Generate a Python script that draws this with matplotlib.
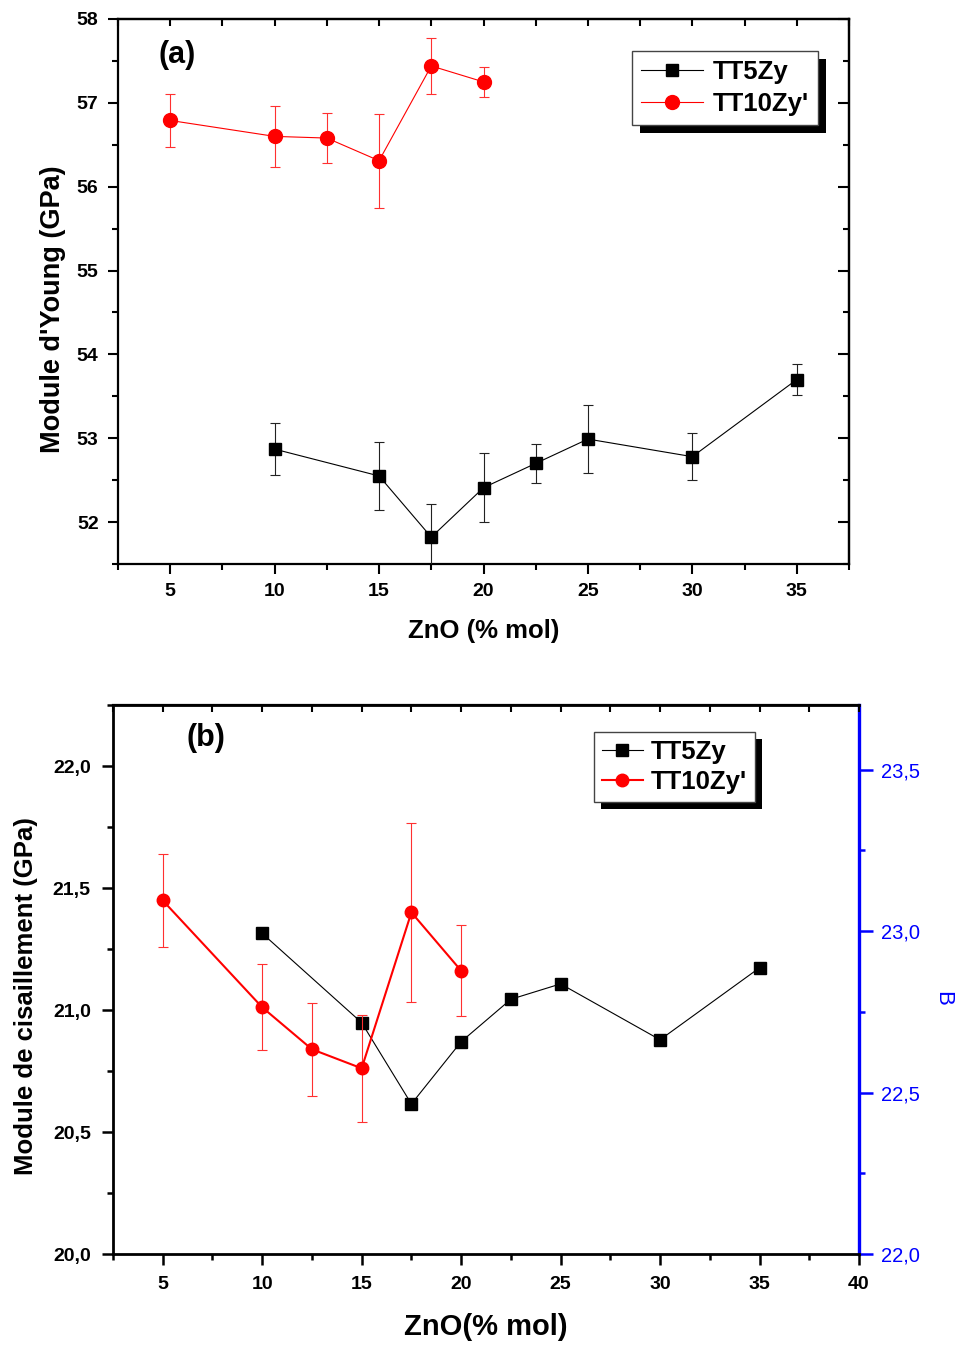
import matplotlib
matplotlib.use("Agg")
import matplotlib.pyplot as plt
from matplotlib.ticker import MultipleLocator, FuncFormatter
from matplotlib.patches import Rectangle
from matplotlib.lines import Line2D

plt.rcParams['font.family'] = ['Liberation Sans', 'DejaVu Sans']

# ---------------- data: panel (a) Young's modulus ----------------
x_a_tt5 = [10, 15, 17.5, 20, 22.5, 25, 30, 35]
y_a_tt5 = [52.87, 52.55, 51.82, 52.41, 52.70, 52.99, 52.78, 53.70]
e_a_tt5 = [0.31, 0.41, 0.39, 0.415, 0.23, 0.405, 0.28, 0.185]

x_a_tt10 = [5, 10, 12.5, 15, 17.5, 20]
y_a_tt10 = [56.79, 56.60, 56.58, 56.31, 57.44, 57.25]
e_a_tt10 = [0.315, 0.365, 0.30, 0.56, 0.33, 0.175]

# ---------------- data: panel (b) shear modulus ----------------
x_b_tt5 = [10, 15, 17.5, 20, 22.5, 25, 30, 35]
y_b_tt5 = [21.314, 20.948, 20.615, 20.870, 21.044, 21.107, 20.878, 21.173]

x_b_tt10 = [5, 10, 12.5, 15, 17.5, 20]
y_b_tt10 = [21.449, 21.011, 20.839, 20.761, 21.400, 21.161]
e_b_tt10 = [0.19, 0.176, 0.19, 0.22, 0.366, 0.186]

labels = ["TT5Zy", "TT10Zy'"]

W, H = 961, 1345
fig = plt.figure(figsize=(W / 100, H / 100), dpi=100)

def ax_rect(l, t, r, b):
    return [l / W, 1 - b / H, (r - l) / W, (b - t) / H]

def comma(v, pos):
    return f"{v:.1f}".replace('.', ',')

def add_shadow(ax, leg, off=8):
    fig.canvas.draw()
    bb = leg.get_window_extent()
    inv = ax.transAxes.inverted()
    (x0, y0) = inv.transform((bb.x0 + off, bb.y0 - off))
    (x1, y1) = inv.transform((bb.x1 + off, bb.y1 - off))
    r = Rectangle((x0, y0), x1 - x0, y1 - y0, transform=ax.transAxes,
                  facecolor='black', edgecolor='none', zorder=4.5, clip_on=False)
    ax.add_patch(r)

TICK_FS = 14

# ======================= panel (a) =======================
ax = fig.add_axes(ax_rect(118, 19, 849, 564))
ax.errorbar(x_a_tt5, y_a_tt5, yerr=e_a_tt5, color='black', marker='s', ms=8,
            lw=0.8, elinewidth=0.8, capsize=3.5, capthick=0.8, ecolor='#222222',
            zorder=3)
ax.errorbar(x_a_tt10, y_a_tt10, yerr=e_a_tt10, color='red', marker='o', ms=10,
            lw=0.8, elinewidth=0.8, capsize=3.5, capthick=0.8, ecolor='#ff3030',
            zorder=3)
ax.set_xlim(2.5, 37.5)
ax.set_ylim(51.5, 58)
ax.xaxis.set_major_locator(MultipleLocator(5))
ax.xaxis.set_minor_locator(MultipleLocator(2.5))
ax.yaxis.set_major_locator(MultipleLocator(1))
ax.yaxis.set_minor_locator(MultipleLocator(0.5))
ax.tick_params(which='major', direction='out', length=7, width=1.5, pad=7)
ax.tick_params(which='minor', direction='out', length=4, width=1.5)
for lab in ax.get_xticklabels() + ax.get_yticklabels():
    lab.set_fontsize(TICK_FS)
    lab.set_fontweight('bold')
for s in ax.spines.values():
    s.set_linewidth(1.6)
sx = ax.secondary_xaxis('top')
sx.xaxis.set_major_locator(MultipleLocator(2.5))
sx.tick_params(direction='in', length=5, width=1.5, labeltop=False)
sx.spines['top'].set_linewidth(1.6)
sy = ax.secondary_yaxis('right')
sy.yaxis.set_major_locator(MultipleLocator(1))
sy.yaxis.set_minor_locator(MultipleLocator(0.5))
sy.tick_params(which='major', direction='in', length=8, width=1.5, labelright=False)
sy.tick_params(which='minor', direction='in', length=4, width=1.5)
sy.spines['right'].set_linewidth(1.6)

ax.set_xlabel("ZnO (% mol)", fontsize=18.5, fontweight='bold')
ax.xaxis.set_label_coords(0.5, -0.123)
ax.xaxis.label.set_va('center')
ax.set_ylabel("Module d'Young (GPa)", fontsize=19.5, fontweight='bold')
ax.yaxis.set_label_coords(-0.089, 0.468)
ax.yaxis.label.set_va('center')
ax.text(0.0807, 0.934, "(a)", transform=ax.transAxes, fontsize=22,
        fontweight='bold', ha='center', va='center')

h_a = [Line2D([], [], color='black', marker='s', ms=8, lw=0.8),
       Line2D([], [], color='red', marker='o', ms=10, lw=0.8)]
leg = ax.legend(h_a, labels, loc='upper left', bbox_to_anchor=(0.703, 0.941),
                borderaxespad=0, fancybox=False, framealpha=1, edgecolor='#444444',
                prop=dict(size=18.5, weight='bold'), handlelength=2.4,
                handletextpad=0.4, labelspacing=0.3, borderpad=0.35)
leg.get_frame().set_linewidth(1.0)

# ======================= panel (b) =======================
axb = fig.add_axes(ax_rect(113, 705, 859, 1254))
axb.plot(x_b_tt5, y_b_tt5, color='black', marker='s', ms=8.5, lw=0.8, zorder=3)
axb.errorbar(x_b_tt10, y_b_tt10, yerr=e_b_tt10, color='red', marker='o', ms=9,
             lw=1.5, elinewidth=0.8, capsize=3.5, capthick=0.8, ecolor='#ff3030',
             zorder=3)
axb.set_xlim(2.5, 40)
axb.set_ylim(20, 22.25)
axb.xaxis.set_major_locator(MultipleLocator(5))
axb.xaxis.set_minor_locator(MultipleLocator(2.5))
axb.yaxis.set_major_locator(MultipleLocator(0.5))
axb.yaxis.set_minor_locator(MultipleLocator(0.25))
axb.yaxis.set_major_formatter(FuncFormatter(comma))
axb.tick_params(which='major', direction='out', length=8, width=1.8, pad=8)
axb.tick_params(which='minor', direction='out', length=4.5, width=1.8)
for lab in axb.get_xticklabels() + axb.get_yticklabels():
    lab.set_fontsize(TICK_FS)
    lab.set_fontweight('bold')
for s in axb.spines.values():
    s.set_linewidth(2.0)
axb.spines['right'].set_visible(False)
sxb = axb.secondary_xaxis('top')
sxb.xaxis.set_major_locator(MultipleLocator(2.5))
sxb.tick_params(direction='in', length=5, width=1.5, labeltop=False)
sxb.spines['top'].set_linewidth(1.6)

ax2 = axb.twinx()
ax2.set_ylim(22, 23.7)
ax2.yaxis.set_major_locator(MultipleLocator(0.5))
ax2.yaxis.set_minor_locator(MultipleLocator(0.25))
ax2.yaxis.set_major_formatter(FuncFormatter(comma))
for side in ['left', 'top', 'bottom']:
    ax2.spines[side].set_visible(False)
ax2.spines['right'].set_color('blue')
ax2.spines['right'].set_linewidth(2.4)
ax2.tick_params(axis='y', which='major', direction='out', length=10, width=1.8,
                colors='blue', labelsize=14.5, pad=6)
ax2.tick_params(axis='y', which='minor', direction='out', length=4, width=1.8,
                colors='blue')
ax2.set_ylabel("B", color='blue', fontsize=16, rotation=270)
ax2.yaxis.set_label_coords(1.1126, 0.466)
ax2.yaxis.label.set_va('center')

axb.set_xlabel("ZnO(% mol)", fontsize=21, fontweight='bold')
axb.xaxis.set_label_coords(0.5, -0.133)
axb.xaxis.label.set_va('center')
axb.set_ylabel("Module de cisaillement (GPa)", fontsize=18.5, fontweight='bold')
axb.yaxis.set_label_coords(-0.1166, 0.469)
axb.yaxis.label.set_va('center')
axb.text(0.1247, 0.94, "(b)", transform=axb.transAxes, fontsize=22,
         fontweight='bold', ha='center', va='center')

axb.set_zorder(ax2.get_zorder() + 1)
axb.patch.set_visible(False)
h_b = [Line2D([], [], color='black', marker='s', ms=8, lw=0.8),
       Line2D([], [], color='red', marker='o', ms=9, lw=1.5)]
legb = axb.legend(h_b, labels, loc='upper left', bbox_to_anchor=(0.645, 0.951),
                  borderaxespad=0, fancybox=False, framealpha=1, edgecolor='#444444',
                  prop=dict(size=18.5, weight='bold'), handlelength=1.6,
                  handletextpad=0.3, labelspacing=0.25, borderpad=0.3)
legb.get_frame().set_linewidth(1.0)

add_shadow(ax, leg, 8)
add_shadow(axb, legb, 7)

fig.savefig("out.png", dpi=100)
